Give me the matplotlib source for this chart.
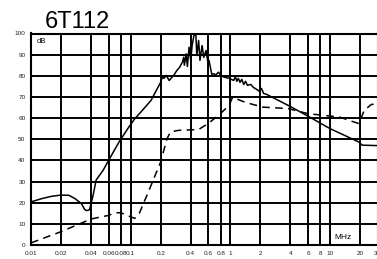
import matplotlib
matplotlib.use("Agg")
import matplotlib.pyplot as plt

# solid curve (MHz, dB)
solid_f = [0.01, 0.013, 0.016, 0.02, 0.024, 0.0275, 0.032, 0.0345, 0.036, 0.0375,
           0.0387, 0.042, 0.045, 0.053, 0.06, 0.077, 0.095, 0.109, 0.13, 0.16,
           0.2, 0.208, 0.216, 0.227, 0.243, 0.27,
           0.29, 0.31, 0.33, 0.34, 0.345, 0.36, 0.37, 0.385, 0.40, 0.413, 0.43,
           0.45, 0.46, 0.48, 0.495, 0.52, 0.54, 0.57, 0.59, 0.61, 0.65, 0.68,
           0.71, 0.76, 0.80, 0.86, 0.97, 1.08, 1.12, 1.16, 1.20, 1.25, 1.30, 1.36,
           1.42, 1.48, 1.60, 1.70, 1.83, 1.96, 2.05, 2.15, 2.31, 3.8, 5.8, 10,
           19.4, 21, 30]
solid_db = [20.4, 22.0, 23.0, 23.6, 23.5, 22.0, 19.6, 16.8, 16.3, 16.4,
            16.8, 23.6, 30.7, 35.4, 40.0, 49.0, 55.5, 59.5, 63.5, 68.4,
            77.0, 79.4, 78.8, 80.2, 77.8, 80.2,
            82.5, 84.1, 86.5, 88.8, 85.0, 90.4, 84.4, 93.5, 87.3, 94.3, 99.0,
            99.8, 89.6, 96.7, 87.3, 94.3, 88.7, 92.0, 87.3, 87.3, 80.7, 81.0,
            80.4, 81.7, 80.2, 79.4, 78.8, 77.8, 79.7, 77.4, 78.8, 76.9, 78.3, 75.9,
            77.4, 75.5, 75.9, 74.5, 73.6, 72.6, 74.0, 71.7, 71.2, 66.0, 61.3, 55.0,
            48.7, 47.2, 47.0]

# dashed curve (MHz, dB)
dash_f = [0.01, 0.02, 0.04, 0.06, 0.07, 0.08, 0.1, 0.11, 0.122, 0.15, 0.2, 0.23,
          0.25, 0.3, 0.48, 0.6, 0.76, 0.97, 1.05, 1.4, 2.1, 3.8, 6.0, 12.4,
          19.4, 22, 26, 30]
dash_db = [1.0, 6.3, 12.3, 14.0, 15.3, 15.2, 13.3, 12.6, 15.0, 25.0, 39.3, 50.0,
           53.4, 54.2, 54.6, 57.5, 61.3, 66.0, 69.8, 67.5, 65.2, 64.5, 62.1, 60.5,
           57.4, 63.7, 66.5, 66.5]

x_ticks = [0.01, 0.02, 0.04, 0.06, 0.08, 0.1, 0.2, 0.4, 0.6, 0.8, 1, 2, 4, 6, 8, 10, 20, 30]
x_labels = ["0.01", "0.02", "0.04", "0.06", "0.08", "0.1", "0.2", "0.4", "0.6", "0.8",
            "1", "2", "4", "6", "8", "10", "20", "30"]
y_ticks = list(range(0, 101, 10))

small = ["Liberation Sans Narrow", "Liberation Sans", "DejaVu Sans"]

fig = plt.figure(figsize=(3.77, 2.59), dpi=100)
ax = fig.add_axes([31 / 377, 14 / 259, 346.7 / 377, 211.5 / 259])
ax.set_xscale("log")
ax.set_xlim(0.01, 30)
ax.set_ylim(0, 100)

for xt in x_ticks:
    ax.axvline(xt, color="black", lw=1.4, zorder=1)
for yt in y_ticks:
    ax.axhline(yt, color="black", lw=1.4, zorder=1)

ax.plot(solid_f, solid_db, color="black", lw=1.1, zorder=3)
ax.plot(dash_f, dash_db, color="black", lw=1.1, dashes=(5, 3.5), zorder=3)

ax.set_xticks(x_ticks)
ax.set_xticklabels(x_labels)
ax.minorticks_off()
ax.set_yticks(y_ticks)
ax.tick_params(length=0, labelsize=4.6, pad=4)
for lab in ax.get_xticklabels() + ax.get_yticklabels():
    lab.set_family(small)
    lab.set_color("#222222")

for s in ax.spines.values():
    s.set_linewidth(1.5)

ax.text(0.0127, 96, "dB", fontsize=5.5, family=small, va="center", ha="center")
ax.text(13.5, 3.5, "MHz", fontsize=6, family=small, va="center", ha="center")

fig.text(45 / 377, 1 - 28 / 259, "6T112", fontsize=17, family=["Liberation Sans", "DejaVu Sans"],
         ha="left", va="baseline")

fig.savefig("out.png", dpi=100)
